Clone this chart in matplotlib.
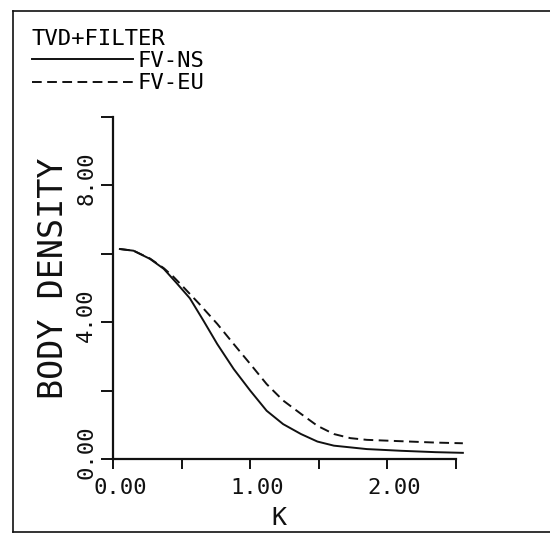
import matplotlib
matplotlib.use('Agg')
from matplotlib import pyplot as plt
from matplotlib.lines import Line2D
from matplotlib.transforms import ScaledTranslation

# values
k_ns = [0.05, 0.15, 0.27, 0.37, 0.46, 0.56, 0.66, 0.76, 0.88, 1.00,
        1.12, 1.24, 1.37, 1.49, 1.61, 1.85, 2.10, 2.35, 2.55]
rho_ns = [6.14, 6.09, 5.85, 5.56, 5.16, 4.70, 4.04, 3.36, 2.63, 2.00,
          1.41, 1.02, 0.73, 0.51, 0.39, 0.29, 0.24, 0.20, 0.18]

k_eu = [0.05, 0.15, 0.27, 0.37, 0.44, 0.51, 0.63, 0.76, 0.88, 1.00,
        1.12, 1.24, 1.37, 1.49, 1.61, 1.73, 1.85, 2.10, 2.35, 2.55]
rho_eu = [6.14, 6.09, 5.86, 5.58, 5.33, 5.04, 4.53, 3.95, 3.36, 2.78,
          2.19, 1.71, 1.32, 0.97, 0.73, 0.61, 0.56, 0.52, 0.48, 0.46]

x_ticks = [0.0, 0.5, 1.0, 1.5, 2.0, 2.5]
x_labels = ['0.00', '', '1.00', '', '2.00', '']
y_ticks = [0, 2, 4, 6, 8, 10]
y_labels = ['0.00', '', '4.00', '', '8.00', '']

plt.rcParams['font.family'] = ['DejaVu Sans Mono']
ink = '#111111'

fig = plt.figure(figsize=(5.5, 5.34), dpi=100)
ax = fig.add_axes([113/550, 1 - 459/534, 343/550, 342/534])

ax.plot(k_ns, rho_ns, c=ink, linewidth=1.4, label='FV-NS', clip_on=False)
ax.plot(k_eu, rho_eu, c=ink, linewidth=1.4, dashes=(5, 2.8), label='FV-EU',
        clip_on=False)

ax.set_xlim(0, 2.5)
ax.set_ylim(0, 10)
ax.spines['top'].set_visible(False)
ax.spines['right'].set_visible(False)
for s in ('left', 'bottom'):
    ax.spines[s].set_linewidth(1.6)
    ax.spines[s].set_color(ink)

ax.set_xticks(x_ticks, x_labels)
ax.set_yticks(y_ticks, y_labels)
ax.tick_params(axis='x', direction='out', length=7.5, width=1.4, pad=6,
               labelsize=16, colors=ink)
ax.tick_params(axis='y', direction='out', length=9, width=1.4, pad=3,
               labelsize=16, colors=ink, labelrotation=90)
for lab in ax.get_yticklabels():
    lab.set_va('center')
    lab.set_transform(lab.get_transform() + ScaledTranslation(0, 5/72, fig.dpi_scale_trans))
for lab in ax.get_xticklabels():
    lab.set_transform(lab.get_transform() + ScaledTranslation(5/72, 0, fig.dpi_scale_trans))

ax.set_xlabel('K', fontsize=18, color=ink)
ax.set_ylabel('BODY DENSITY', fontsize=24, color=ink)
ax.xaxis.set_label_coords(0.484, -0.138)
ax.yaxis.set_label_coords(-0.125, 0.529)

ax.legend(title='TVD+FILTER', title_fontsize=16, fontsize=16, loc='upper left',
          bbox_to_anchor=(32/550, 1 - 29/534), bbox_transform=fig.transFigure,
          alignment='left', frameon=False, borderpad=0, borderaxespad=0,
          handlelength=4.55, handletextpad=0.2, labelspacing=0.1)

# page frame (left, top, bottom edges)
fig.add_artist(Line2D([13/550, 13/550], [1 - 532/534, 1 - 11/534],
                      transform=fig.transFigure, c=ink, lw=1.2))
fig.add_artist(Line2D([13/550, 1], [1 - 11/534, 1 - 11/534],
                      transform=fig.transFigure, c=ink, lw=1.2))
fig.add_artist(Line2D([13/550, 1], [1 - 532/534, 1 - 532/534],
                      transform=fig.transFigure, c=ink, lw=1.2))

plt.savefig('out.png', dpi=100)
